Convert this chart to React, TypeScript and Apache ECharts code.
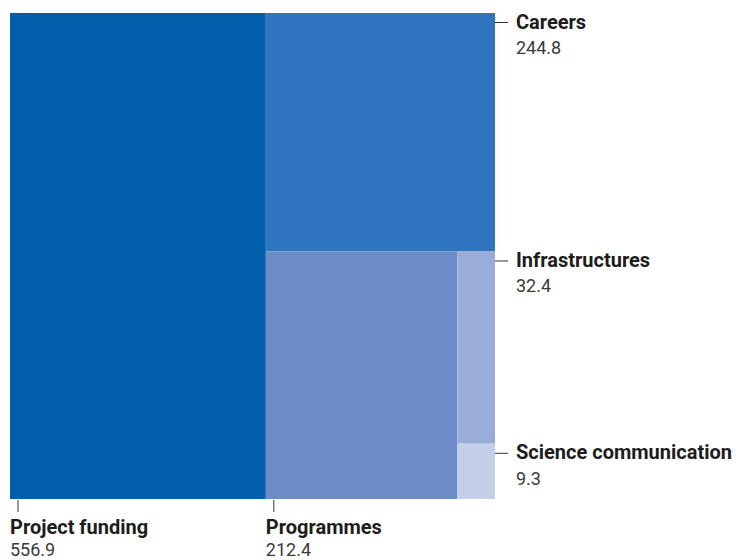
import React, { useEffect, useRef } from "react";
import * as echarts from "echarts";

const categories = ["Project funding", "Careers", "Programmes", "Infrastructures", "Science communication"];
const amounts = [556.9, 244.8, 212.4, 32.4, 9.3];
const colors = ["#005EAB", "#2F74BF", "#6C8CC9", "#9AADD8", "#C6CFEA"];

// slice-and-dice layout in unit square, alternating vertical / horizontal splits
function buildCells() {
  let x0 = 0, x1 = 1, y0 = 0, y1 = 1;
  let remaining = amounts.reduce((a, b) => a + b, 0);
  return amounts.map((v, i) => {
    const last = i === amounts.length - 1;
    const frac = last ? 1 : v / remaining;
    remaining -= v;
    let cell: number[];
    if (i % 2 === 0) {
      const xs = x0 + frac * (x1 - x0);
      cell = [x0, xs, y0, y1];
      x0 = xs;
    } else {
      const ys = y0 + frac * (y1 - y0);
      cell = [x0, x1, y0, ys];
      y0 = ys;
    }
    return { name: categories[i], value: [...cell, v, i] };
  });
}

const FONT = "Roboto";

export default function App() {
  const ref = useRef<HTMLDivElement>(null);
  useEffect(() => {
    document.body.style.margin = "0";
    const chart = echarts.init(ref.current!, null, { renderer: "svg" });
    const data = buildCells();
    chart.setOption({
      animation: false,
      backgroundColor: "#ffffff",
      grid: { left: 10, top: 13, width: 485, height: 486 },
      xAxis: { type: "value", min: 0, max: 1, show: false },
      yAxis: { type: "value", min: 0, max: 1, inverse: true, show: false },
      series: [
        {
          type: "custom",
          clip: false,
          data,
          renderItem: (params: any, api: any) => {
            const x0 = api.value(0), x1 = api.value(1), y0 = api.value(2), y1 = api.value(3);
            const v = api.value(4);
            const idx = api.value(5);
            const p0 = api.coord([x0, y0]);
            const p1 = api.coord([x1, y1]);
            const children: any[] = [
              {
                type: "rect",
                shape: { x: p0[0], y: p0[1], width: p1[0] - p0[0], height: p1[1] - p0[1] },
                style: { fill: colors[idx] },
              },
            ];
            const nameStyle = { fontFamily: FONT, fontSize: 20, fontWeight: "bold", fill: "#1d1d1b", align: "left", verticalAlign: "middle" };
            const valStyle = { fontFamily: FONT, fontSize: 18, fontWeight: "normal", fill: "#3a3a3a", align: "left", verticalAlign: "middle" };
            if (x1 > 0.9999) {
              const ty = p0[1] + 9.5;
              children.push({
                type: "line",
                shape: { x1: p1[0], y1: ty, x2: p1[0] + 13, y2: ty },
                style: { stroke: "#333333", lineWidth: 1 },
              });
              children.push({ type: "text", style: { ...nameStyle, text: categories[idx], x: p1[0] + 21, y: ty - 1 } });
              children.push({ type: "text", style: { ...valStyle, text: v.toFixed(1), x: p1[0] + 21, y: ty + 25 } });
            } else {
              const tx = p0[0] + 8;
              children.push({
                type: "line",
                shape: { x1: tx, y1: p1[1] + 1, x2: tx, y2: p1[1] + 13 },
                style: { stroke: "#333333", lineWidth: 1 },
              });
              children.push({ type: "text", style: { ...nameStyle, text: categories[idx], x: p0[0], y: p1[1] + 28 } });
              children.push({ type: "text", style: { ...valStyle, text: v.toFixed(1), x: p0[0], y: p1[1] + 50 } });
            }
            return { type: "group", children };
          },
        },
      ],
    });
    return () => chart.dispose();
  }, []);
  return <div ref={ref} style={{ width: 743, height: 560 }} />;
}
